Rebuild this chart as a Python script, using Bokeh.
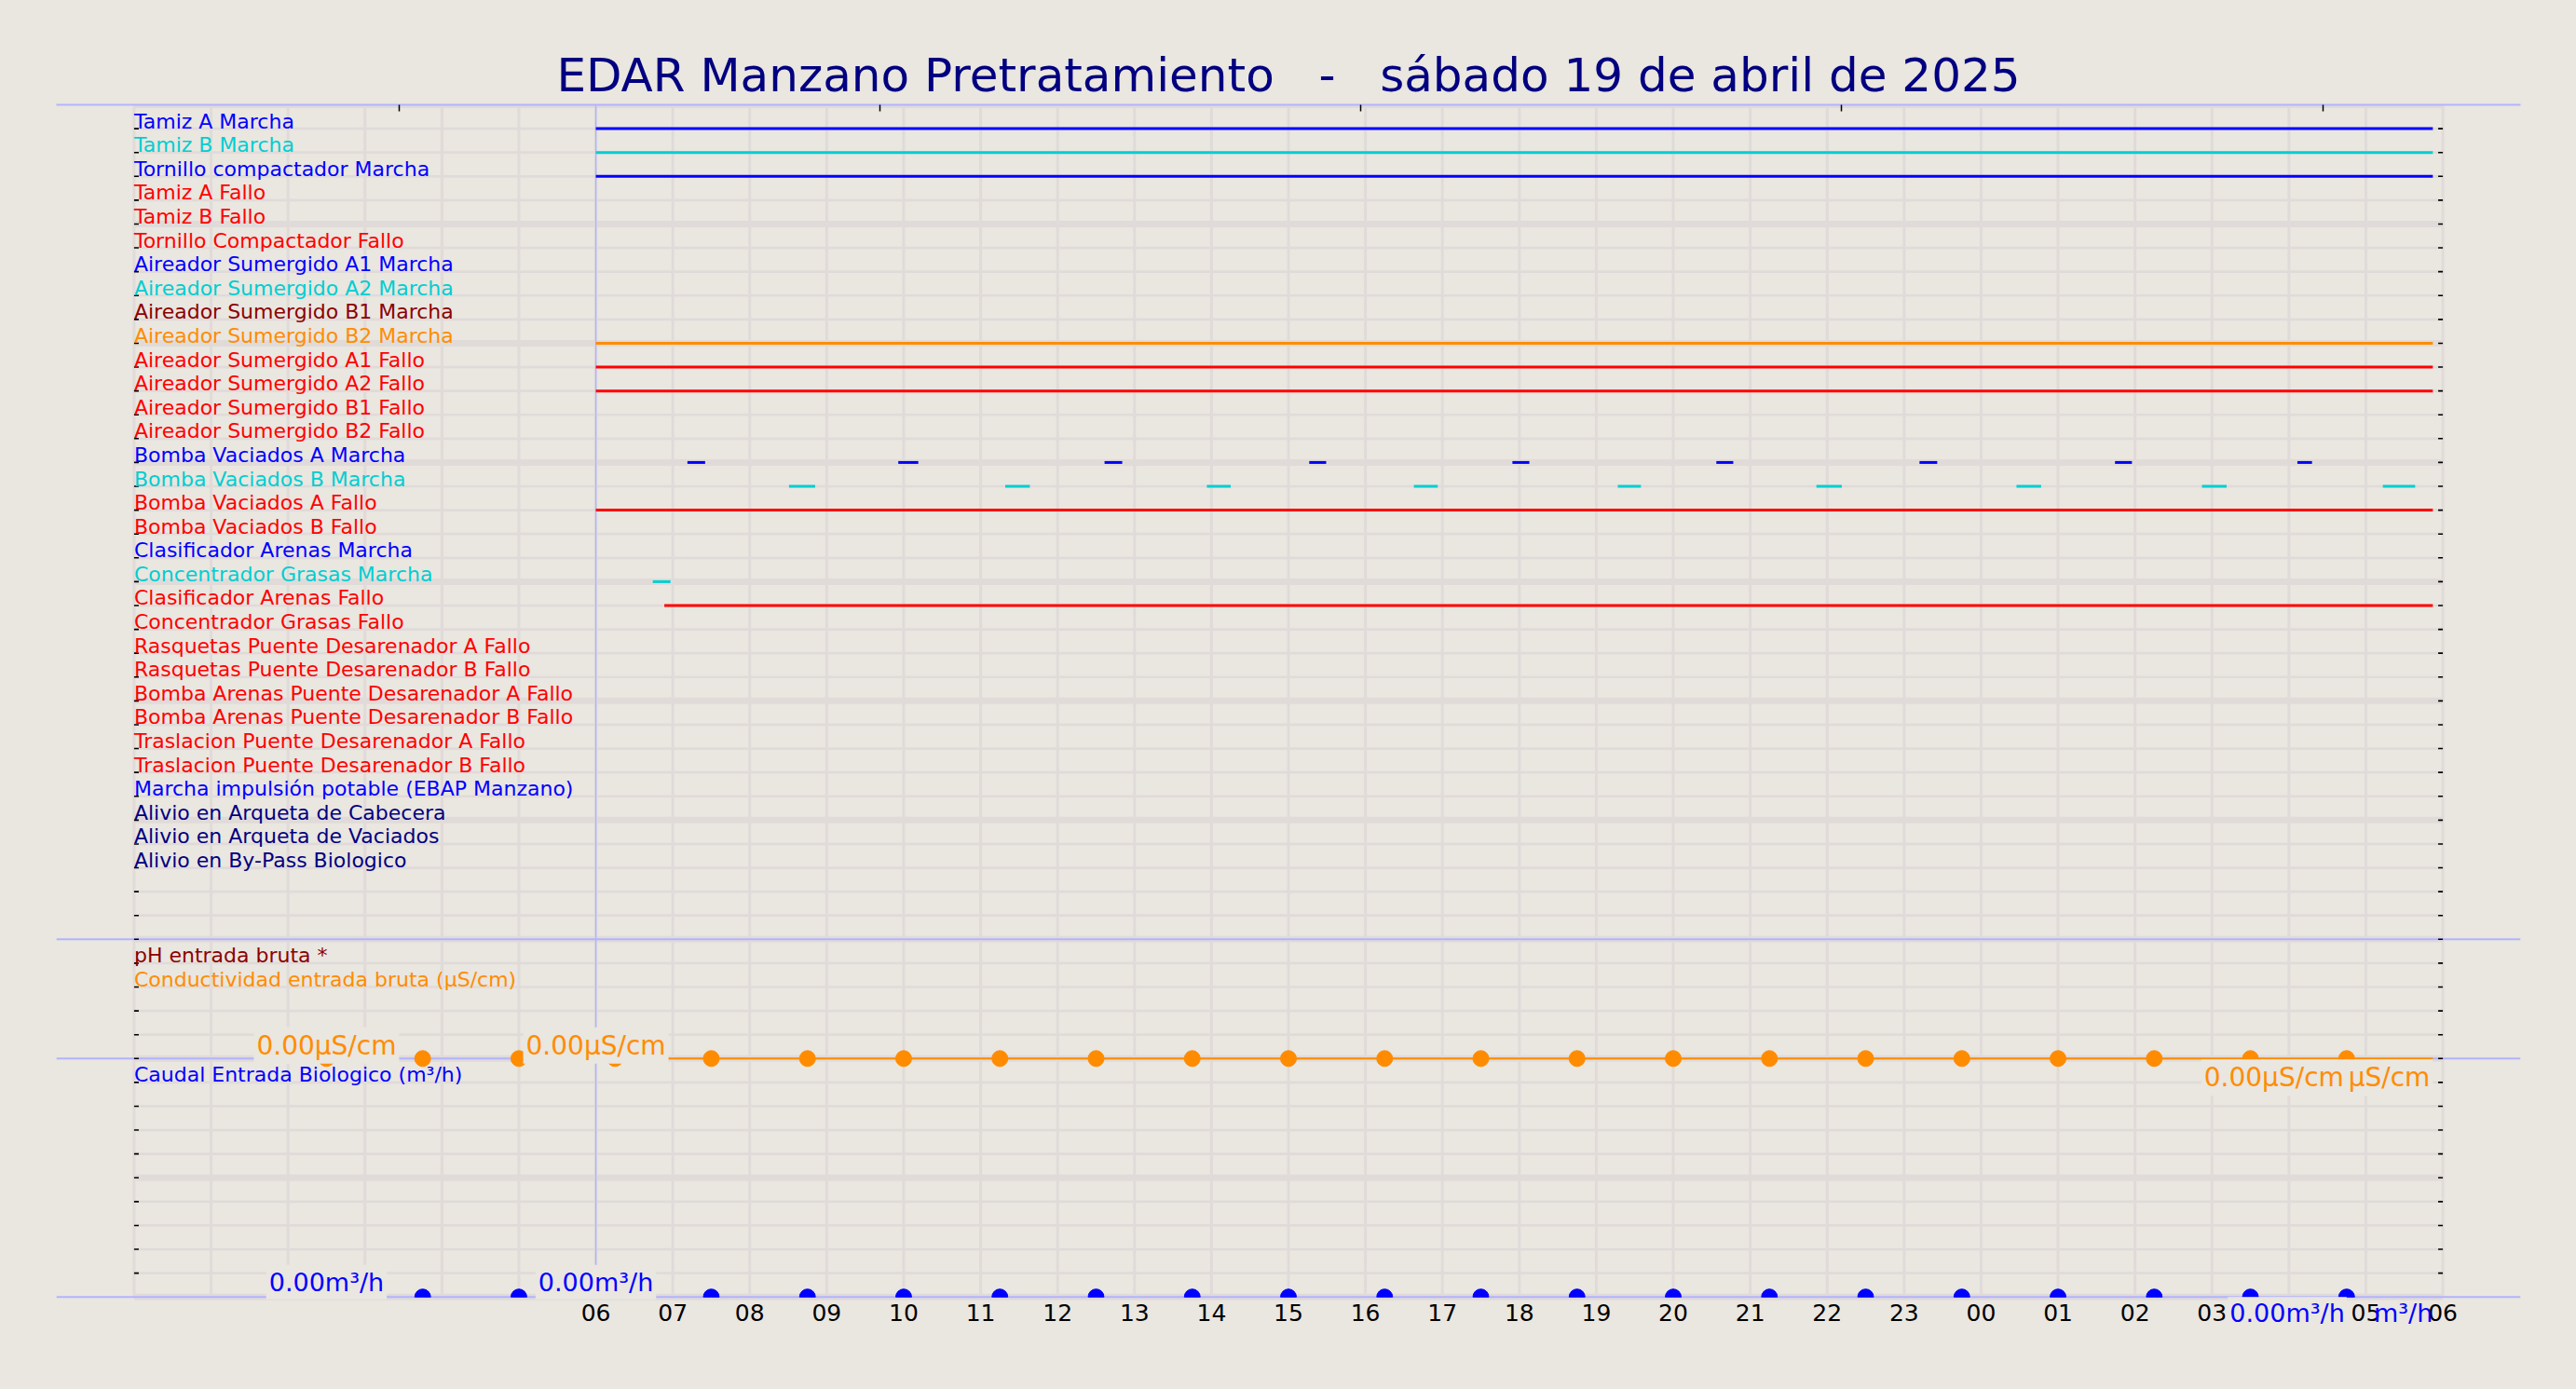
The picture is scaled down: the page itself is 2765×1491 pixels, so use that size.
import numpy as np
from bokeh.plotting import figure
from bokeh.models import Range1d, FixedTicker, LinearAxis, ColumnDataSource
from bokeh.core.properties import value
from bokeh.embed import file_html
from bokeh.resources import INLINE

FONT = "DejaVu Sans"
BG = "#eae6e0"
GRID = "#e0dbd9"
LIGHTBLUE = "#b3b3ff"
BLUE = "#0000ff"
CYAN = "#00ced1"
RED = "#ff0000"
DARKRED = "#8b0000"
ORANGE = "#ff8c00"
NAVY = "#000080"

SP3 = "\u00a0\u00a0\u00a0"
TITLE = "EDAR Manzano Pretratamiento" + SP3 + "-" + SP3 + "sábado 19 de abril de 2025"

# ---------------- digital signals (one row each) ----------------
signal_names = [
    "Tamiz A Marcha", "Tamiz B Marcha", "Tornillo compactador Marcha",
    "Tamiz A Fallo", "Tamiz B Fallo", "Tornillo Compactador Fallo",
    "Aireador Sumergido A1 Marcha", "Aireador Sumergido A2 Marcha",
    "Aireador Sumergido B1 Marcha", "Aireador Sumergido B2 Marcha",
    "Aireador Sumergido A1 Fallo", "Aireador Sumergido A2 Fallo",
    "Aireador Sumergido B1 Fallo", "Aireador Sumergido B2 Fallo",
    "Bomba Vaciados A Marcha", "Bomba Vaciados B Marcha",
    "Bomba Vaciados A Fallo", "Bomba Vaciados B Fallo",
    "Clasificador Arenas Marcha", "Concentrador Grasas Marcha",
    "Clasificador Arenas Fallo", "Concentrador Grasas Fallo",
    "Rasquetas Puente Desarenador A Fallo", "Rasquetas Puente Desarenador B Fallo",
    "Bomba Arenas Puente Desarenador A Fallo", "Bomba Arenas Puente Desarenador B Fallo",
    "Traslacion Puente Desarenador A Fallo", "Traslacion Puente Desarenador B Fallo",
    "Marcha impulsión potable (EBAP Manzano)",
    "Alivio en Arqueta de Cabecera", "Alivio en Arqueta de Vaciados",
    "Alivio en By-Pass Biologico",
]
signal_colors = [
    BLUE, CYAN, BLUE, RED, RED, RED, BLUE, CYAN, DARKRED, ORANGE,
    RED, RED, RED, RED, BLUE, CYAN, RED, RED, BLUE, CYAN,
    RED, RED, RED, RED, RED, RED, RED, RED, BLUE, NAVY, NAVY, NAVY,
]

# active intervals, hours since 19/04/2025 00:00
long_signals = ["Tamiz A Marcha", "Tamiz B Marcha", "Tornillo compactador Marcha",
                "Aireador Sumergido B2 Marcha", "Aireador Sumergido A1 Fallo",
                "Aireador Sumergido A2 Fallo", "Bomba Vaciados A Fallo",
                "Concentrador Grasas Marcha", "Clasificador Arenas Fallo"]
long_start = [6.0, 6.0, 6.0, 6.0, 6.0, 6.0, 6.0, 6.74, 6.89]
long_end = [29.87, 29.87, 29.87, 29.87, 29.87, 29.87, 29.87, 6.97, 29.87]

bomba_a_on = [7.19, 9.93, 12.61, 15.27, 17.91, 20.56, 23.20, 25.74, 28.11]
bomba_a_off = [7.42, 10.19, 12.84, 15.49, 18.13, 20.78, 23.43, 25.96, 28.30]
bomba_b_on = [8.51, 11.32, 13.94, 16.63, 19.28, 21.86, 24.46, 26.87, 29.22]
bomba_b_off = [8.85, 11.64, 14.25, 16.94, 19.58, 22.19, 24.78, 27.19, 29.64]

# ---------------- analog signals ----------------
analog_names = ["pH entrada bruta *", "Conductividad entrada bruta (μS/cm)",
                "Caudal Entrada Biologico (m³/h)"]
analog_label_rows = [35, 36, 40]
analog_colors = [DARKRED, ORANGE, BLUE]

sample_times = [2.5, 3.75, 5.0, 6.25, 7.5, 8.75, 10.0, 11.25, 12.5, 13.75, 15.0,
                16.25, 17.5, 18.75, 20.0, 21.25, 22.5, 23.75, 25.0, 26.25, 27.5, 28.75]
conductividad = [0.0, 0.0, 0.0, 0.0, 0.0, 0.0, 0.0, 0.0, 0.0, 0.0, 0.0,
                 0.0, 0.0, 0.0, 0.0, 0.0, 0.0, 0.0, 0.0, 0.0, 0.0, 0.0]
caudal = [0.0, 0.0, 0.0, 0.0, 0.0, 0.0, 0.0, 0.0, 0.0, 0.0, 0.0,
          0.0, 0.0, 0.0, 0.0, 0.0, 0.0, 0.0, 0.0, 0.0, 0.0, 0.0]
cond_line_times = [6.0, 29.87]
cond_line_values = [0.0, 0.0]
value_label_times = [2.5, 6.0]
cond_label_values = [0.0, 0.0]
caudal_label_values = [0.0, 0.0]
last_sample_time = 28.75
last_time = 29.87
cond_last = 0.0
caudal_last = 0.0
cond_unit = "μS/cm"
caudal_unit = "m³/h"

hour_ticks = list(range(6, 31))
hour_labels = ["06", "07", "08", "09", "10", "11", "12", "13", "14", "15", "16", "17",
               "18", "19", "20", "21", "22", "23", "00", "01", "02", "03", "04", "05", "06"]
top_ticks = [3.44, 9.69, 15.94, 22.19, 28.44]

# ---------------- layout constants ----------------
XMIN, XMAX = -1.01, 31.01
YTOP, YBOT, YFRAME = -1, 49, 50.3
T0, T1 = 0, 30
COND_ROW, CAUDAL_ROW, SEP_ROW = 39, 49, 34
SCALE = 0.002

p = figure(width=2765, height=1491,
           x_range=Range1d(XMIN, XMAX), y_range=Range1d(YFRAME, YTOP),
           x_axis_type=None, y_axis_type=None,
           output_backend="svg", toolbar_location=None,
           min_border_left=60, min_border_right=60,
           min_border_top=112, min_border_bottom=66,
           background_fill_color=BG, border_fill_color=BG,
           outline_line_color=None)

p.title.text = TITLE
p.title.align = "center"
p.title.text_font = FONT
p.title.text_font_size = "50px"
p.title.text_font_style = "normal"
p.title.text_color = NAVY
p.title.standoff = 5

top = LinearAxis(ticker=FixedTicker(ticks=top_ticks))
top.axis_line_color = LIGHTBLUE
top.axis_line_width = 2
top.major_tick_line_color = "black"
top.major_tick_line_width = 1.5
top.minor_tick_line_color = None
top.major_tick_in = 7
top.major_tick_out = 0
top.major_label_text_font_size = "0px"
top.major_label_text_color = None
p.add_layout(top, "above")

# grid
rows_all = list(range(YTOP, YBOT + 1))
thin = [r for r in rows_all if (r + 1) % 5 != 0]
thick = [r for r in rows_all if (r + 1) % 5 == 0]
p.segment(x0=T0, y0=thin, x1=T1, y1=thin, line_color=GRID, line_width=2.7)
p.segment(x0=T0, y0=thick, x1=T1, y1=thick, line_color=GRID, line_width=7)
hours = list(range(T0, T1 + 1))
p.segment(x0=hours, y0=YTOP, x1=hours, y1=YBOT, line_color=GRID, line_width=3)

# reference lines
p.segment(x0=6.0, y0=YTOP, x1=6.0, y1=YBOT, line_color=LIGHTBLUE, line_width=1.5)
p.segment(x0=XMIN, y0=[SEP_ROW, COND_ROW, CAUDAL_ROW], x1=XMAX,
          y1=[SEP_ROW, COND_ROW, CAUDAL_ROW], line_color=LIGHTBLUE, line_width=2)

# row ticks
tick_rows = list(range(0, YBOT))
p.ray(x=T0, y=tick_rows, length=5, length_units="screen", angle=0,
      line_color="black", line_width=1.6)
p.ray(x=T1, y=tick_rows, length=5, length_units="screen", angle=np.pi,
      line_color="black", line_width=1.6)

# digital intervals
row_of = {n: i for i, n in enumerate(signal_names)}
col_of = {n: c for n, c in zip(signal_names, signal_colors)}
seg_src = ColumnDataSource(dict(
    x0=long_start + bomba_a_on + bomba_b_on,
    x1=long_end + bomba_a_off + bomba_b_off,
    y=[row_of[n] for n in long_signals] + [row_of["Bomba Vaciados A Marcha"]] * len(bomba_a_on)
      + [row_of["Bomba Vaciados B Marcha"]] * len(bomba_b_on),
    c=[col_of[n] for n in long_signals] + [BLUE] * len(bomba_a_on) + [CYAN] * len(bomba_b_on),
))
p.segment(x0="x0", y0="y", x1="x1", y1="y", line_color="c", line_width=3, source=seg_src)

# analog: conductivity & flow
cond_y = [COND_ROW - v * SCALE for v in conductividad]
caud_y = [CAUDAL_ROW - v * SCALE for v in caudal]
p.line(x=cond_line_times, y=[COND_ROW - v * SCALE for v in cond_line_values],
       line_color=ORANGE, line_width=2)
p.scatter(x=sample_times, y=cond_y, size=17, color=ORANGE)
# flow markers sit on the lower edge of the chart: only their upper half shows
p.wedge(x=sample_times, y=caud_y, radius=8.5, radius_units="screen",
        start_angle=0, end_angle=np.pi, color=BLUE)

# row labels
lab_src = ColumnDataSource(dict(
    x=[T0] * (len(signal_names) + len(analog_names)),
    y=list(range(len(signal_names))) + analog_label_rows,
    t=signal_names + analog_names,
    c=signal_colors + analog_colors,
))
p.text(x="x", y="y", text="t", text_color="c", source=lab_src, x_offset=0, y_offset=-8,
       text_font=value(FONT), text_font_size="22px", text_baseline="middle")

# x tick labels
p.text(x=hour_ticks, y=[YBOT] * len(hour_ticks), text=hour_labels, text_color="black",
       text_font=value(FONT), text_font_size="25px", text_align="center",
       text_baseline="top", y_offset=8)

# value labels
cond_txt = [f"{v:.2f}{cond_unit}" for v in cond_label_values]
p.text(x=value_label_times, y=[COND_ROW] * 2, text=cond_txt, text_color=ORANGE,
       text_font=value(FONT), text_font_size="28px", text_align="center",
       text_baseline="middle", y_offset=-14,
       background_fill_color=BG, padding=3)
# last value + unit at the end of the series
p.text(x=[last_sample_time, last_time], y=[COND_ROW] * 2,
       text=[f"{cond_last:.2f}{cond_unit}", cond_unit], text_color=ORANGE,
       text_font=value(FONT), text_font_size="28px", text_align="right",
       text_baseline="top", y_offset=1, x_offset=0,
       background_fill_color=BG, padding=3)
caud_txt = [f"{v:.2f}{caudal_unit}" for v in caudal_label_values]
p.text(x=value_label_times, y=[CAUDAL_ROW] * 2, text=caud_txt, text_color=BLUE,
       text_font=value(FONT), text_font_size="27px", text_align="center",
       text_baseline="middle", y_offset=-16,
       background_fill_color=BG, padding=3)
p.text(x=[last_sample_time], y=[CAUDAL_ROW],
       text=[f"{caudal_last:.2f}{caudal_unit}"], text_color=BLUE,
       text_font=value(FONT), text_font_size="27px", text_align="right",
       text_baseline="top", y_offset=0, x_offset=0,
       background_fill_color=BG, padding=2)
p.text(x=[last_time], y=[CAUDAL_ROW], text=[caudal_unit], text_color=BLUE,
       text_font=value(FONT), text_font_size="27px", text_align="right",
       text_baseline="top", y_offset=2, x_offset=0)

html = file_html(p, INLINE, title="EDAR Manzano Pretratamiento")
html = html.replace("<head>", "<head>\n<style>body{background:#eae6e0;}</style>", 1)
open("out.html", "w").write(html)
